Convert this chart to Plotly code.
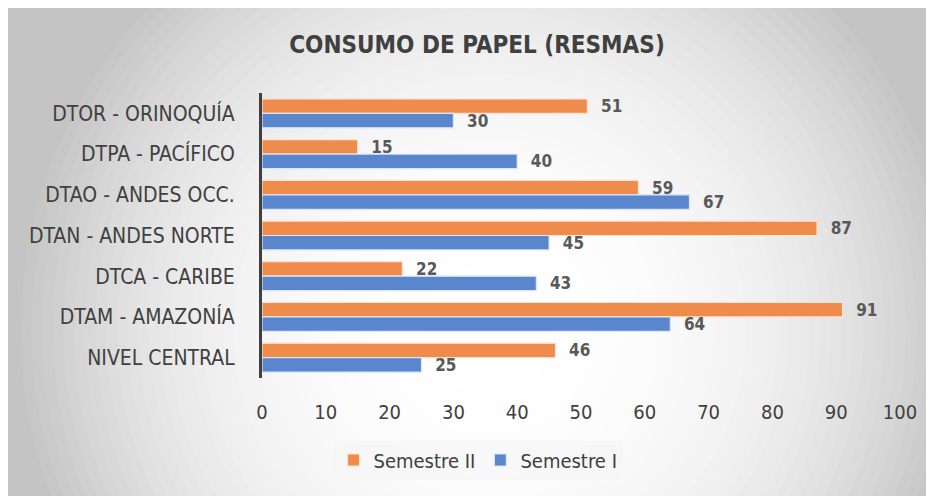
import plotly.graph_objects as go

# data, listed top to bottom as in the chart
categories = ['DTOR - ORINOQUÍA', 'DTPA - PACÍFICO', 'DTAO - ANDES OCC.',
              'DTAN - ANDES NORTE', 'DTCA - CARIBE', 'DTAM - AMAZONÍA',
              'NIVEL CENTRAL']
semestre_2 = [51, 15, 59, 87, 22, 91, 46]
semestre_1 = [30, 40, 67, 45, 43, 64, 25]
x_ticks = [0, 10, 20, 30, 40, 50, 60, 70, 80, 90, 100]

# the page body has an 8px margin, so the figure sits at (8, 8) on screen
OFF = 8
W, H = 934 - OFF, 496 - OFF
ML, MR, MT, MB = 262 - OFF, 34, 93 - OFF, 118
PW, PH = W - ML - MR, H - MT - MB
FONT = "DejaVu Sans Condensed, sans-serif"


def px_to_paper(sx, sy):
    # screen pixel -> paper coords
    x, y = sx - OFF, sy - OFF
    return (x - ML) / PW, 1 - (y - MT) / PH


# radial grey-to-white background made of concentric circles
shapes = []
cx, cy, R, N = 490, 330, 480, 45
for k in range(N):
    r = R * (1 - k / N)
    g = int(round(255 - (255 - 196) * (r / R) ** 2.5))
    x0, y1 = px_to_paper(cx - r, cy - r)
    x1, y0 = px_to_paper(cx + r, cy + r)
    shapes.append(dict(type='circle', xref='paper', yref='paper', x0=x0, x1=x1,
                       y0=y0, y1=y1, fillcolor=f'rgb({g},{g},{g})',
                       line_width=0, layer='below'))

label_font = dict(family=FONT, size=17, color='#595959', weight='bold')

fig = go.Figure()
fig.add_trace(go.Bar(
    y=categories, x=semestre_2, name='Semestre II', orientation='h',
    marker=dict(color='#EF8C4C', line=dict(color='#fbe3d3', width=1.2)),
    text=semestre_2, texttemplate='  %{x}', textposition='outside',
    textfont=label_font, constraintext='none', cliponaxis=False,
))
fig.add_trace(go.Bar(
    y=categories, x=semestre_1, name='Semestre I', orientation='h',
    marker=dict(color='#5A86CE', line=dict(color='#dde6f5', width=1.2)),
    text=semestre_1, texttemplate='  %{x}', textposition='outside',
    textfont=label_font, constraintext='none', cliponaxis=False,
))

lx, ly = px_to_paper(478, 460)
fig.update_layout(
    width=W, height=H,
    margin=dict(l=ML, r=MR, t=MT, b=MB),
    paper_bgcolor='#c4c4c4',
    plot_bgcolor='rgba(0,0,0,0)',
    barmode='group', bargap=0.29, bargroupgap=0,
    font=dict(family=FONT, color='#404040'),
    title=dict(text='<b>CONSUMO DE PAPEL (RESMAS)</b>', xref='container',
               x=(477 - OFF) / W, y=1 - (45 - OFF) / H,
               xanchor='center', yanchor='middle',
               font=dict(family=FONT, size=24, color='#404040')),
    legend=dict(orientation='h', x=lx, y=ly, xanchor='center', yanchor='middle',
                bgcolor='rgba(245,245,245,0.6)', font=dict(size=20, color='#404040'),
                itemwidth=30),
    shapes=shapes,
    showlegend=True,
)
fig.update_xaxes(range=[0, 100], tickvals=x_ticks, showgrid=False, zeroline=False,
                 showline=False, ticks='', ticklabelstandoff=20,
                 tickfont=dict(size=20, color='#404040'))
fig.update_yaxes(autorange='reversed', showgrid=False, zeroline=False,
                 showline=True, linecolor='#404040', linewidth=3, ticks='',
                 ticklabelstandoff=20, tickfont=dict(size=21, color='#404040'))

fig.write_html("out.html")
